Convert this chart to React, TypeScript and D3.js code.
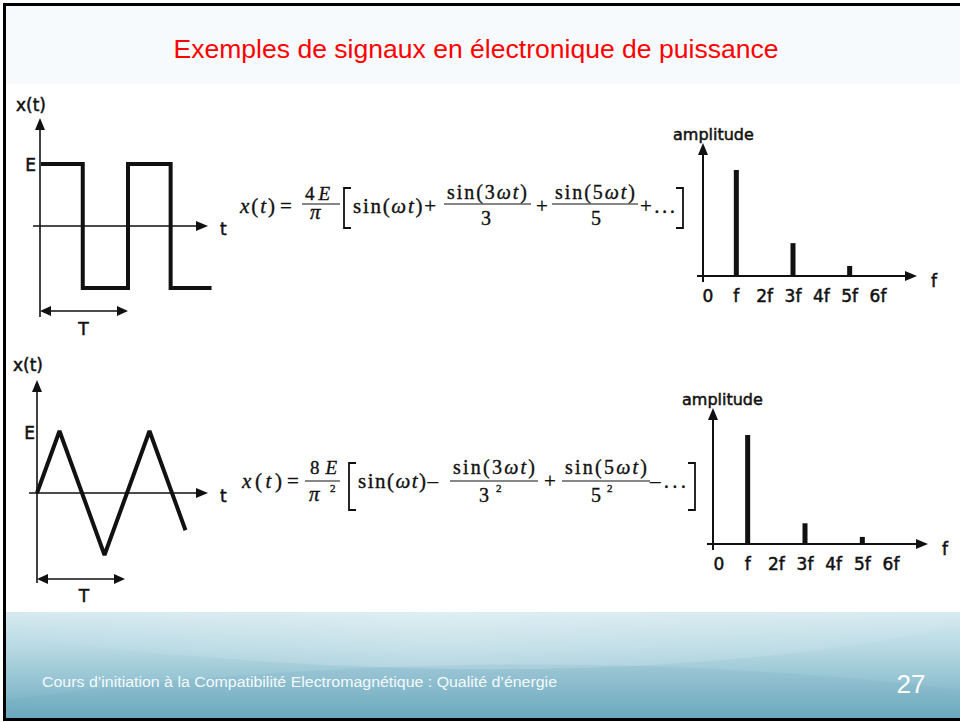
import React from "react";
import * as d3 from "d3";

const W = 960;
const H = 722;

// Square wave: switching instants (in periods T) and level (in units of E) after each instant
const squareTimes = [0, 0.48, 1.0, 1.49, 1.96];
const squareLevels = [1, -1, 1, -1, -1];

// Triangle wave: vertex instants (in periods T) and values (in units of E)
const triTimes = [0, 0.25, 0.75, 1.25, 1.65];
const triValues = [0, 1, -1, 1, -0.6];

// Spectra
const freqLabels = ["0", "f", "2f", "3f", "4f", "5f", "6f"];
const squareHarmonics = [1, 3, 5];
const squareAmplitudes = [1, 0.31, 0.095];
const triHarmonics = [1, 3, 5];
const triAmplitudes = [1, 0.19, 0.065];

const TITLE = "Exemples de signaux en électronique de puissance";
const FOOTER = "Cours d\u2019initiation à la Compatibilité Electromagnétique : Qualité d\u2019énergie";
const PAGE = "27";

const HAND = "'Comic Sans MS', 'DejaVu Sans', sans-serif";
const SERIF = "'Liberation Serif', 'Times New Roman', serif";
const INK = "#111";

type Dir = "up" | "right" | "left";
function Arrow({ x, y, dir, len = 12, half = 5 }: { x: number; y: number; dir: Dir; len?: number; half?: number }) {
  let pts: [number, number][];
  if (dir === "up") pts = [[x, y], [x - half, y + len], [x + half, y + len]];
  else if (dir === "right") pts = [[x, y], [x - len, y - half], [x - len, y + half]];
  else pts = [[x, y], [x + len, y - half], [x + len, y + half]];
  return <polygon points={pts.map((p) => p.join(",")).join(" ")} fill={INK} />;
}

function HandText({ x, y, children, size = 17, anchor = "start" }: any) {
  return (
    <text
      x={x}
      y={y}
      fontFamily={HAND}
      fontSize={size}
      fill={INK}
      stroke={INK}
      strokeWidth={0.5}
      textAnchor={anchor}
    >
      {children}
    </text>
  );
}

function SquarePanel() {
  const xs = d3.scaleLinear().domain([0, 1]).range([41, 128]);
  const ys = d3.scaleLinear().domain([-1, 1]).range([288, 164]);
  const pts = squareTimes.map((t, i) => [t, squareLevels[i]] as [number, number]);
  const line = d3
    .line<[number, number]>()
    .x((d) => xs(d[0]))
    .y((d) => ys(d[1]))
    .curve(d3.curveStepAfter);
  const ax = xs(0) - 1;
  const y0 = ys(0);
  return (
    <g>
      <line x1={ax} x2={ax} y1={317} y2={128} stroke={INK} strokeWidth={1.6} />
      <Arrow x={ax} y={118} dir="up" />
      <line x1={33} x2={198} y1={y0} y2={y0} stroke={INK} strokeWidth={1.6} />
      <Arrow x={208} y={y0} dir="right" />
      <path d={line(pts) || ""} fill="none" stroke={INK} strokeWidth={4} strokeLinejoin="miter" />
      <line x1={ax + 8} x2={xs(1) - 8} y1={311} y2={311} stroke={INK} strokeWidth={1.6} />
      <Arrow x={ax} y={311} dir="left" len={11} />
      <Arrow x={xs(1)} y={311} dir="right" len={11} />
      <HandText x={16} y={111}>x(t)</HandText>
      <HandText x={36} y={ys(1) + 7} anchor="end">E</HandText>
      <HandText x={220} y={y0 + 9}>t</HandText>
      <HandText x={(xs(0) + xs(1)) / 2 - 1} y={335} anchor="middle">T</HandText>
    </g>
  );
}

function TrianglePanel() {
  const xs = d3.scaleLinear().domain([0, 1]).range([37, 127]);
  const ys = d3.scaleLinear().domain([-1, 1]).range([555, 431]);
  const pts = triTimes.map((t, i) => [t, triValues[i]] as [number, number]);
  const line = d3
    .line<[number, number]>()
    .x((d) => xs(d[0]))
    .y((d) => ys(d[1]));
  const ax = xs(0);
  const y0 = ys(0);
  return (
    <g>
      <line x1={ax} x2={ax} y1={583} y2={390} stroke={INK} strokeWidth={1.6} />
      <Arrow x={ax} y={380} dir="up" />
      <line x1={29} x2={198} y1={y0} y2={y0} stroke={INK} strokeWidth={1.6} />
      <Arrow x={208} y={y0} dir="right" />
      <path d={line(pts) || ""} fill="none" stroke={INK} strokeWidth={4} strokeLinejoin="miter" strokeMiterlimit={2} />
      <line x1={ax + 8} x2={xs(1) - 10} y1={579} y2={579} stroke={INK} strokeWidth={1.6} />
      <Arrow x={ax} y={579} dir="left" len={11} />
      <Arrow x={xs(1) - 2} y={579} dir="right" len={11} />
      <HandText x={13} y={371}>x(t)</HandText>
      <HandText x={35} y={ys(1) + 8} anchor="end">E</HandText>
      <HandText x={220} y={y0 + 9}>t</HandText>
      <HandText x={84} y={602} anchor="middle">T</HandText>
    </g>
  );
}

function SpectrumPanel(p: {
  range: [number, number];
  baseY: number;
  topY: number;
  yAxisX: number;
  yAxisBottom: number;
  yTip: number;
  xStart: number;
  xTip: number;
  ampX: number;
  ampY: number;
  fX: number;
  fY: number;
  tickY: number;
  harmonics: number[];
  amps: number[];
}) {
  const xs = d3.scaleLinear().domain([0, freqLabels.length - 1]).range(p.range);
  const ys = d3.scaleLinear().domain([0, 1]).range([p.baseY, p.topY]);
  return (
    <g>
      {p.harmonics.map((h, i) => (
        <rect key={i} x={xs(h) - 2.5} width={5} y={ys(p.amps[i])} height={ys(0) - ys(p.amps[i])} fill={INK} />
      ))}
      <line x1={p.yAxisX} x2={p.yAxisX} y1={p.yAxisBottom} y2={p.yTip + 10} stroke={INK} strokeWidth={2} />
      <Arrow x={p.yAxisX} y={p.yTip} dir="up" />
      <line x1={p.xStart} x2={p.xTip - 10} y1={p.baseY} y2={p.baseY} stroke={INK} strokeWidth={2} />
      <Arrow x={p.xTip} y={p.baseY} dir="right" />
      <HandText x={p.ampX} y={p.ampY} size={16}>amplitude</HandText>
      <HandText x={p.fX} y={p.fY} size={17}>f</HandText>
      {freqLabels.map((l, i) => (
        <HandText key={l} x={xs(i)} y={p.tickY} size={17} anchor="middle">
          {l}
        </HandText>
      ))}
    </g>
  );
}

function It({ children }: any) {
  return <tspan fontStyle="italic">{children}</tspan>;
}

function MT({ x, y, len, size = 21, children }: any) {
  return (
    <text
      x={x}
      y={y}
      fontFamily={SERIF}
      fontSize={size}
      fill={INK}
      stroke={INK}
      strokeWidth={0.35}
      textLength={len}
      lengthAdjust="spacing"
    >
      {children}
    </text>
  );
}

function Bracket({ x, y1, y2, open }: { x: number; y1: number; y2: number; open: boolean }) {
  const d = open
    ? `M${x + 7},${y1} H${x} V${y2} H${x + 7}`
    : `M${x - 7},${y1} H${x} V${y2} H${x - 7}`;
  return <path d={d} fill="none" stroke={INK} strokeWidth={1.8} />;
}

function Bar({ x1, x2, y }: { x1: number; x2: number; y: number }) {
  return <line x1={x1} x2={x2} y1={y} y2={y} stroke={INK} strokeWidth={1.1} />;
}

function Formula1() {
  return (
    <g>
      <MT x={240} y={213} len={35}>
        <It>x</It>(<It>t</It>)
      </MT>
      <MT x={280} y={213}>=</MT>
      <MT x={305} y={200} len={25} size={19}>
        4<It>E</It>
      </MT>
      <Bar x1={302} x2={340} y={204} />
      <MT x={310} y={219} size={21}>
        <It>π</It>
      </MT>
      <Bracket x={344} y1={188} y2={228} open />
      <MT x={353} y={213} len={83}>
        sin(<It>ωt</It>)+
      </MT>
      <MT x={447} y={199} len={80} size={20}>
        sin(3<It>ωt</It>)
      </MT>
      <Bar x1={444} x2={531} y={204} />
      <MT x={481} y={225} size={20}>3</MT>
      <MT x={536} y={213}>+</MT>
      <MT x={555} y={199} len={80} size={20}>
        sin(5<It>ωt</It>)
      </MT>
      <Bar x1={552} x2={638} y={204} />
      <MT x={591} y={225} size={20}>5</MT>
      <MT x={640} y={213} len={35}>
        +...
      </MT>
      <Bracket x={683} y1={188} y2={228} open={false} />
    </g>
  );
}

function Formula2() {
  return (
    <g>
      <MT x={242} y={488} len={40}>
        <It>x</It>(<It>t</It>)
      </MT>
      <MT x={287} y={488}>=</MT>
      <MT x={310} y={474} len={27} size={19}>
        8<It>E</It>
      </MT>
      <Bar x1={305} x2={340} y={481} />
      <MT x={309} y={501} size={21}>
        <It>π</It>
      </MT>
      <MT x={330} y={492} size={11}>2</MT>
      <Bracket x={349} y1={463} y2={510} open />
      <MT x={358} y={488} len={80}>
        sin(<It>ωt</It>)–
      </MT>
      <MT x={453} y={474} len={82} size={20}>
        sin(3<It>ωt</It>)
      </MT>
      <Bar x1={450} x2={538} y={481} />
      <MT x={479} y={502} size={20}>3</MT>
      <MT x={496} y={492} size={11}>2</MT>
      <MT x={544} y={488}>+</MT>
      <MT x={565} y={474} len={82} size={20}>
        sin(5<It>ωt</It>)
      </MT>
      <Bar x1={562} x2={650} y={481} />
      <MT x={591} y={502} size={20}>5</MT>
      <MT x={607} y={492} size={11}>2</MT>
      <MT x={650} y={488} len={36}>
        –...
      </MT>
      <Bracket x={695} y1={463} y2={510} open={false} />
    </g>
  );
}

function Footer() {
  return (
    <g>
      <defs>
        <linearGradient id="footGrad" x1="0" y1="0" x2="0" y2="1">
          <stop offset="0" stopColor="#d6eaf0" />
          <stop offset="0.35" stopColor="#b6d8e2" />
          <stop offset="1" stopColor="#6caabf" />
        </linearGradient>
        <linearGradient id="swoosh" x1="0" y1="0" x2="1" y2="0">
          <stop offset="0" stopColor="#ffffff" stopOpacity="0" />
          <stop offset="0.45" stopColor="#ffffff" stopOpacity="0.22" />
          <stop offset="1" stopColor="#ffffff" stopOpacity="0.05" />
        </linearGradient>
      </defs>
      <rect x={5} y={612} width={W - 5} height={107} fill="url(#footGrad)" />
      <path d="M5,612 L960,612 L960,625 C760,672 420,690 5,636 Z" fill="url(#swoosh)" />
      <path d="M5,700 C300,660 640,650 960,690 L960,719 L5,719 Z" fill="#5f9fb5" opacity={0.12} />
      <text
        x={42}
        y={687}
        fontFamily="'Liberation Sans Narrow', 'Liberation Sans', Arial, sans-serif"
        fontSize={14}
        fill="#f4fafc"
        textLength={515}
        lengthAdjust="spacingAndGlyphs"
      >
        {FOOTER}
      </text>
      <text
        x={911}
        y={693}
        fontFamily="'Liberation Sans Narrow', 'Liberation Sans', Arial, sans-serif"
        fontSize={26}
        fill="#ffffff"
        textAnchor="middle"
        textLength={29}
        lengthAdjust="spacingAndGlyphs"
      >
        {PAGE}
      </text>
    </g>
  );
}

export default function App() {
  return (
    <svg
      width={W}
      height={H}
      viewBox={`0 0 ${W} ${H}`}
      style={{ position: "absolute", left: 0, top: 0, background: "#ffffff" }}
    >
      <rect x={0} y={0} width={W} height={H} fill="#ffffff" />
      <rect x={5} y={5} width={W - 5} height={79} fill="#f6fafc" />
      <Footer />
      <text
        x={476}
        y={58}
        fontFamily="'Liberation Sans', Arial, sans-serif"
        fontSize={25}
        fill="#ff0000"
        textAnchor="middle"
        textLength={605}
        lengthAdjust="spacingAndGlyphs"
      >
        {TITLE}
      </text>
      <SquarePanel />
      <Formula1 />
      <SpectrumPanel
        range={[708, 878]}
        baseY={276}
        topY={170}
        yAxisX={703}
        yAxisBottom={282}
        yTip={143}
        xStart={697}
        xTip={917}
        ampX={673}
        ampY={140}
        fX={931}
        fY={287}
        tickY={302}
        harmonics={squareHarmonics}
        amps={squareAmplitudes}
      />
      <TrianglePanel />
      <Formula2 />
      <SpectrumPanel
        range={[719, 891]}
        baseY={544}
        topY={435}
        yAxisX={713}
        yAxisBottom={550}
        yTip={408}
        xStart={707}
        xTip={928}
        ampX={682}
        ampY={405}
        fX={942}
        fY={555}
        tickY={570}
        harmonics={triHarmonics}
        amps={triAmplitudes}
      />
      <line x1={4.5} x2={4.5} y1={3} y2={721} stroke="#000" strokeWidth={3} />
      <line x1={3} x2={W} y1={4.5} y2={4.5} stroke="#000" strokeWidth={3} />
      <line x1={3} x2={W} y1={719.5} y2={719.5} stroke="#000" strokeWidth={3} />
    </svg>
  );
}
